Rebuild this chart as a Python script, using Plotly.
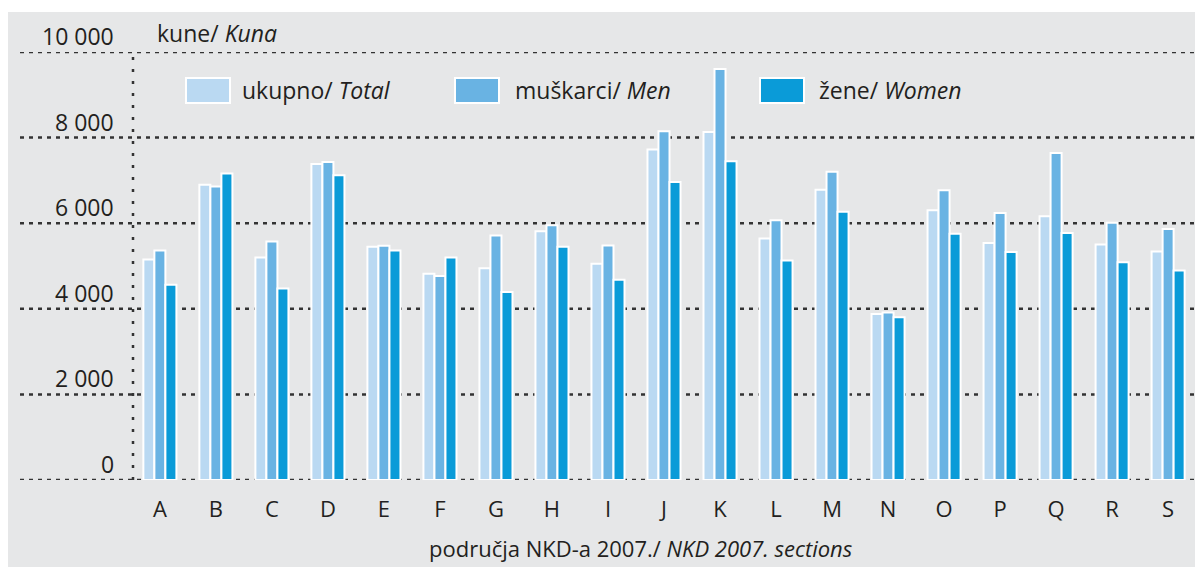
import plotly.graph_objects as go

categories = ["A", "B", "C", "D", "E", "F", "G", "H", "I", "J", "K", "L", "M", "N", "O", "P", "Q", "R", "S"]
total = [5150, 6900, 5200, 7385, 5450, 4820, 4950, 5810, 5050, 7720, 8130, 5640, 6780, 3880, 6300, 5540, 6160, 5500, 5340]
men = [5360, 6860, 5575, 7430, 5475, 4765, 5710, 5950, 5480, 8150, 9600, 6070, 7200, 3915, 6770, 6240, 7640, 6010, 5865]
women = [4560, 7160, 4475, 7120, 5360, 5200, 4390, 5450, 4680, 6960, 7450, 5130, 6270, 3805, 5755, 5325, 5770, 5085, 4895]
y_ticks = [0, 2000, 4000, 6000, 8000, 10000]
y_tick_labels = ["0", "2 000", "4 000", "6 000", "8 000", "10 000"]

names = ["ukupno/ <i>Total</i>", "muškarci/ <i>Men</i>", "žene/ <i>Women</i>"]
colors = ["#bad9f2", "#69b3e3", "#0a9bd8"]
series = [total, men, women]

FONT = "Open Sans"
TXT = "#231f20"
BG = "#e6e7e8"

OFF = 8  # page body margin
W, H = 1203 - OFF, 567 - OFF
L, R, T, B = 133 - OFF, 8, 52 - OFF, 567 - 480
pw, ph = W - L - R, H - T - B


def px_x(sx):
    # screen pixel -> paper coordinate
    return (sx - OFF - L) / pw


def px_y(sy):
    return (H - B - (sy - OFF)) / ph


fig = go.Figure()
for name, col, vals in zip(names, colors, series):
    fig.add_trace(go.Bar(
        x=categories, y=vals, name=name,
        marker=dict(color=col, line=dict(color="white", width=2)),
        showlegend=False,
    ))

shapes = []
annotations = []
# horizontal dotted gridlines
for v in y_ticks:
    shapes.append(dict(type="line", xref="paper", yref="y", x0=px_x(20), x1=1.0, y0=v, y1=v,
                       line=dict(color="#333333", width=2.5, dash="4px,5px"), layer="below"))
# vertical dotted axis
shapes.append(dict(type="line", xref="paper", yref="y", x0=0, x1=0, y0=0, y1=10000,
                   line=dict(color="#333333", width=2.5, dash="3px,9px"), layer="below"))
# thin white strip at top
shapes.append(dict(type="rect", xref="paper", yref="paper", x0=px_x(0), x1=px_x(1210), y0=px_y(12), y1=px_y(0),
                   fillcolor="white", line=dict(width=0), layer="below"))

# y tick labels above gridlines
for v, lab in zip(y_ticks, y_tick_labels):
    annotations.append(dict(xref="paper", yref="y", x=px_x(116), y=v, yshift=16, text=lab, showarrow=False,
                            xanchor="right", yanchor="middle", font=dict(family=FONT, size=23, color=TXT)))

# unit label
annotations.append(dict(xref="paper", yref="paper", x=px_x(155), y=px_y(33), text="kune/ <i>Kuna</i>", showarrow=False,
                        xanchor="left", yanchor="middle", font=dict(family=FONT, size=23, color=TXT)))

# custom legend
leg = [(186, 240), (455, 513), (760, 817)]
for (sx, tx), name, col in zip(leg, names, colors):
    shapes.append(dict(type="rect", xref="paper", yref="paper", x0=px_x(sx), x1=px_x(sx + 44), y0=px_y(103), y1=px_y(78),
                       fillcolor=col, line=dict(color="white", width=2)))
    annotations.append(dict(xref="paper", yref="paper", x=px_x(tx), y=px_y(90), text=name, showarrow=False,
                            xanchor="left", yanchor="middle", font=dict(family=FONT, size=23, color=TXT)))

# x axis title
annotations.append(dict(xref="paper", yref="paper", x=px_x(641), y=px_y(548), text="područja NKD-a 2007./ <i>NKD 2007. sections</i>",
                        showarrow=False, xanchor="center", yanchor="middle", font=dict(family=FONT, size=22, color=TXT)))

fig.update_layout(
    width=W, height=H,
    margin=dict(l=L, r=R, t=T, b=B, pad=0),
    paper_bgcolor=BG, plot_bgcolor=BG,
    barmode="group", bargap=0.41, bargroupgap=0,
    shapes=shapes, annotations=annotations,
    xaxis=dict(type="category", range=[-0.48, 18.48], showgrid=False, zeroline=False, showline=False,
               ticks="", tickfont=dict(family=FONT, size=22, color=TXT), ticklabelstandoff=14),
    yaxis=dict(range=[0, 10000], showgrid=False, zeroline=False, showline=False, showticklabels=False, ticks=""),
)

fig.write_html("out.html")
